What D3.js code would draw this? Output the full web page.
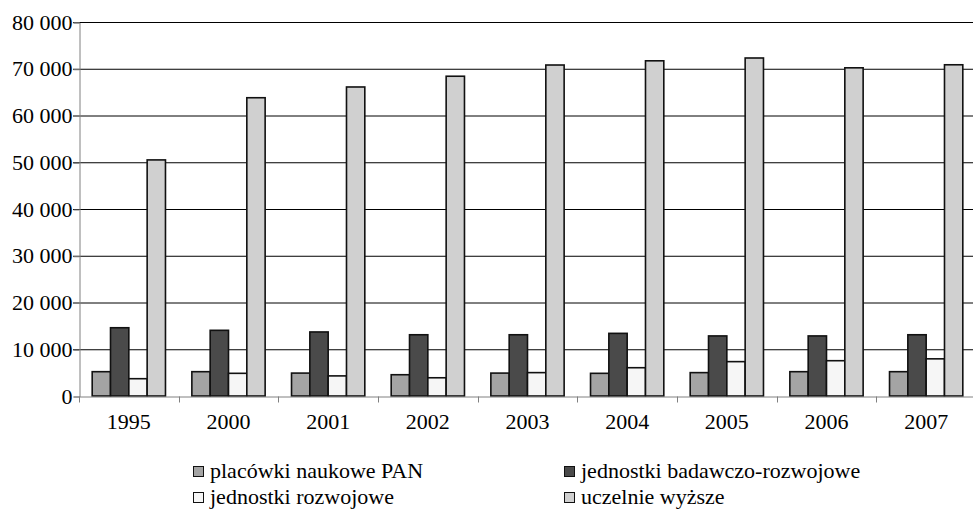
<!DOCTYPE html>
<html>
<head>
<meta charset="utf-8">
<script src="https://cdn.jsdelivr.net/npm/d3@7"></script>
<style>
  body { margin: 0; background: #fff; }
  svg text { font-family: "Liberation Serif", "Times New Roman", serif; fill: #000; }
</style>
</head>
<body>
<div id="chart"></div>
<script>
// Data
var years = ["1995", "2000", "2001", "2002", "2003", "2004", "2005", "2006", "2007"];
var seriesNames = ["placówki naukowe PAN", "jednostki badawczo-rozwojowe", "jednostki rozwojowe", "uczelnie wyższe"];
var pan = [5200, 5200, 4900, 4550, 4900, 4850, 5000, 5200, 5200];
var jbr = [14600, 14050, 13700, 13100, 13100, 13400, 12850, 12850, 13100];
var jr = [3700, 4850, 4300, 3900, 5000, 6050, 7350, 7550, 7950];
var ucz = [50500, 63800, 66100, 68400, 70800, 71700, 72300, 70200, 70850];
var yTicks = [0, 10000, 20000, 30000, 40000, 50000, 60000, 70000, 80000];
var colors = ["#a4a4a4", "#4a4a4a", "#f6f6f6", "#d0d0d0"];

var allSeries = [pan, jbr, jr, ucz];
var serif = "'Liberation Serif', 'Times New Roman', serif";

var svgWidth = 973;
var svgHeight = 521;

var svg = d3.select("#chart")
    .append("svg")
    .attr("width", svgWidth)
    .attr("height", svgHeight)
    .attr("font-family", serif);

var plotLeft = 79, plotRight = 976, plotTop = 22, plotBottom = 396;

var x0 = d3.scaleBand()
    .domain(years)
    .range([plotLeft, plotRight])
    .padding(0);

var x1 = d3.scaleBand()
    .domain(d3.range(seriesNames.length))
    .range([0, x0.bandwidth()])
    .paddingInner(0)
    .paddingOuter(0.72);

var y = d3.scaleLinear()
    .domain([0, 80000])
    .range([plotBottom, plotTop]);

var fmt = function(d) {
    return d3.format(",")(d).replace(/,/g, " ");
};

// gridlines
svg.append("g")
    .selectAll("line")
    .data(yTicks.slice(1))
    .join("line")
    .attr("x1", plotLeft - 6)
    .attr("x2", svgWidth)
    .attr("y1", d => y(d) + 0.5)
    .attr("y2", d => y(d) + 0.5)
    .attr("stroke", "#000")
    .attr("stroke-width", 1);

// y axis
var yAxis = d3.axisLeft(y)
    .tickValues(yTicks)
    .tickFormat(fmt)
    .tickSize(6)
    .tickPadding(1);

var gy = svg.append("g")
    .attr("transform", "translate(" + (plotLeft + 0.5) + ",0.5)")
    .call(yAxis)
    .attr("font-family", serif)
    .attr("font-size", 22);
gy.select(".domain").attr("stroke", "#808080");
gy.selectAll(".tick line").attr("stroke", "#808080");
gy.selectAll("text").attr("dy", "0.3em");

// bars
var groups = svg.append("g")
    .selectAll("g")
    .data(years)
    .join("g")
    .attr("transform", d => "translate(" + x0(d) + ",0)");

groups.selectAll("rect")
    .data((d, i) => allSeries.map((s, k) => ({ k: k, v: s[i] })))
    .join("rect")
    .attr("x", d => x1(d.k))
    .attr("width", x1.bandwidth())
    .attr("y", d => y(d.v))
    .attr("height", d => y(0) - y(d.v))
    .attr("fill", d => colors[d.k])
    .attr("stroke", "#111")
    .attr("stroke-width", 1.6);

// x axis
var xAxis = d3.axisBottom(x0)
    .tickSize(0)
    .tickPadding(17);

var gx = svg.append("g")
    .attr("transform", "translate(0," + (plotBottom + 0.5) + ")")
    .call(xAxis)
    .attr("font-family", serif)
    .attr("font-size", 22);
gx.select(".domain").attr("stroke", "#808080");

// category boundary ticks
gx.append("g")
    .selectAll("line")
    .data(years)
    .join("line")
    .attr("x1", d => Math.round(x0(d)) + 0.5)
    .attr("x2", d => Math.round(x0(d)) + 0.5)
    .attr("y1", 0)
    .attr("y2", 6)
    .attr("stroke", "#808080");

// legend
var legendPos = [[193, 471], [564, 471], [193, 497], [564, 497]];

var legend = svg.append("g")
    .selectAll("g")
    .data(seriesNames)
    .join("g")
    .attr("transform", (d, i) => "translate(" + legendPos[i][0] + "," + legendPos[i][1] + ")");

legend.append("rect")
    .attr("x", 0.5)
    .attr("y", -4.5)
    .attr("width", 10)
    .attr("height", 10)
    .attr("fill", (d, i) => colors[i])
    .attr("stroke", "#111")
    .attr("stroke-width", 1);

legend.append("text")
    .attr("x", 17)
    .attr("y", 7)
    .attr("font-size", 22)
    .text(d => d);
</script>
</body>
</html>
